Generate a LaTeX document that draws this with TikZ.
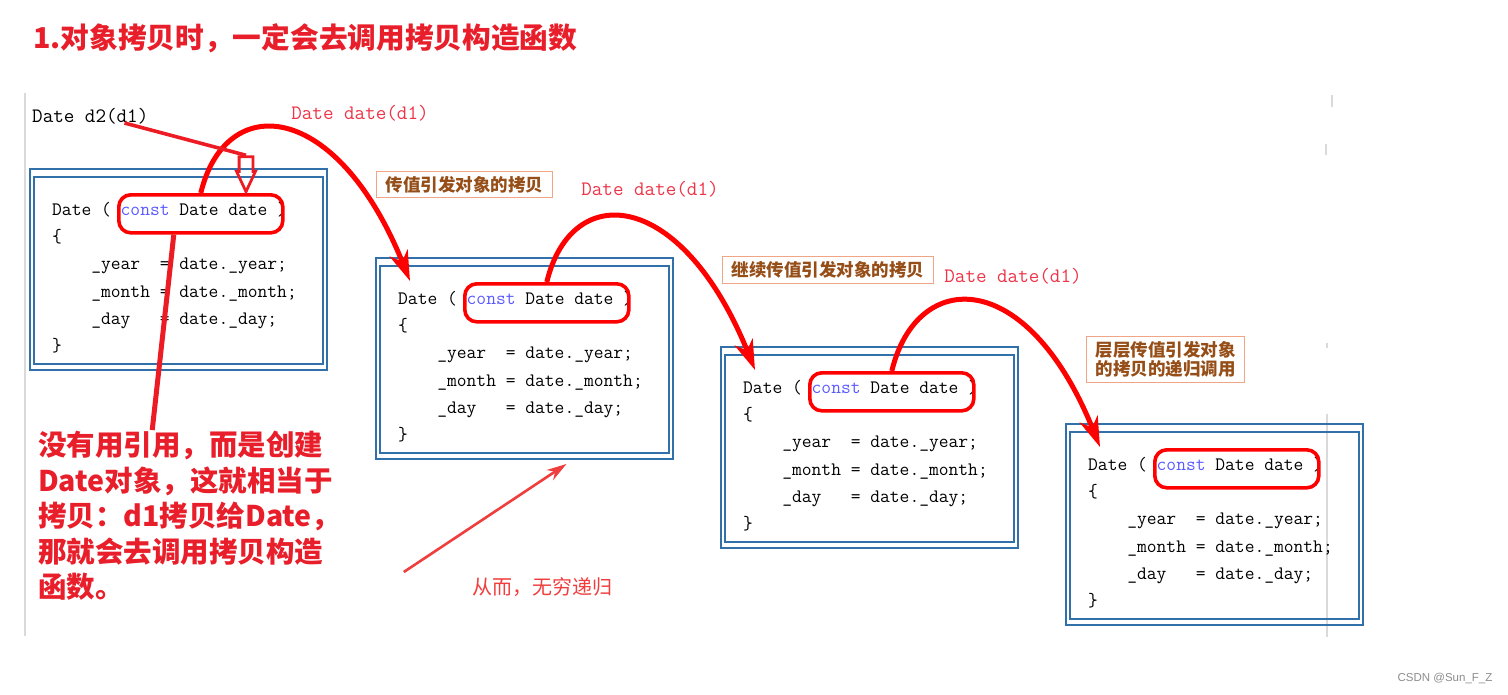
\documentclass[tikz,border=0pt]{standalone}
\usepackage{fontspec}
\setsansfont{Liberation Sans}
\newfontfamily\cjk{Noto Sans CJK SC}
\usetikzlibrary{arrows.meta,calc,positioning,shapes.arrows}
\definecolor{framecol}{RGB}{49,112,168}
\definecolor{constblue}{RGB}{90,90,255}
\definecolor{titlered}{RGB}{232,30,42}
\definecolor{linered}{RGB}{237,28,36}
\definecolor{callred}{RGB}{238,52,72}
\definecolor{softred}{RGB}{240,62,62}
\definecolor{labbrown}{RGB}{150,78,24}
\definecolor{labedge}{RGB}{240,165,135}
\definecolor{guide}{RGB}{218,218,218}
\tikzset{%
    frame/.style={%
        draw=framecol, line width=2.2pt, minimum width=297pt, minimum height=201pt,
        inner sep=0pt, outer sep=0pt, anchor=north west
    },
    framein/.style={draw=framecol, line width=2.2pt},
    code/.style={%
        font=\ttfamily\fontsize{19}{27.3}\selectfont, align=left, inner sep=0pt, anchor=north west
    },
    redbox/.style={%
        draw=red, line width=3.6pt, rounded corners=12pt, minimum width=164pt, minimum height=38pt,
        inner sep=0pt, anchor=north west
    },
    arc/.style={draw=red, line width=5pt, -{Stealth[length=30pt,width=19pt,inset=9pt]}},
    calltext/.style={font=\ttfamily\fontsize{20.5}{24}\selectfont, inner sep=0pt},
    lab/.style={%
        draw=labedge, line width=1pt, text=labbrown, font=\cjk\bfseries\fontsize{17.5}{18.5}\selectfont,
        inner xsep=9pt, inner ysep=5pt, align=left
    },
    guideline/.style={draw=guide, line width=1.3pt}
}

\begin{document}
\begin{tikzpicture}[x=1pt, y=-1pt]
    \useasboundingbox (0,0) rectangle (1508,694);
    \draw[guideline] (25,93) -- (25,636);
    \draw[guideline] (1332,95) -- (1332,107);
    \draw[guideline] (1326,144) -- (1326,155);
    \draw[guideline] (1327,343) -- (1327,348);
    \draw[guideline] (1327,414) -- (1327,637);

    \node[font=\cjk\bfseries\fontsize{28.7}{30}\selectfont, text=titlered, anchor=west, inner sep=0pt]
        (title) at (33,38) {1.对象拷贝时，一定会去调用拷贝构造函数};
    \node[calltext, anchor=west] (call) at (32,116) {Date d2(d1)};

    \foreach \i/\x/\y in {1/30/169, 2/376/258, 3/721/347, 4/1066/424} {
        \node[frame] (f\i) at (\x,\y) {};
        \draw[framein] ($(f\i.north west)+(4,8)$) rectangle ($(f\i.south east)+(-4,-6)$);
        \node[code] (c\i) at (\x+22,\y+33) {%
            Date ( {\color{constblue}const} Date date )\\
            \{\\
            \hphantom{xxxx}\_year~~= date.\_year;\\
            \hphantom{xxxx}\_month = date.\_month;\\
            \hphantom{xxxx}\_day~~~= date.\_day;\\
            \}};
        \node[redbox] (rb\i) at (\x+87,\y+24) {};
        \coordinate (tip\i) at (\x+34,\y+23);
    }

    \node[calltext, text=callred] (dd1) at (360,113) {Date date(d1)};
    \node[calltext, text=callred] (dd2) at (650,189) {Date date(d1)};
    \node[calltext, text=callred] (dd3) at (1013,276) {Date date(d1)};
    \node[lab] (why1) at (464.5,184.5) {传值引发对象的拷贝};
    \node[lab] (why2) at (828,270) {继续传值引发对象的拷贝};
    \node[lab] (why3) at (1165.5,359.5) {层层传值引发对象\\的拷贝的递归调用};

    \foreach \i/\j in {1/2, 2/3, 3/4}
        \draw[arc] (rb\i.north) .. controls +(25,-103) and +(-73,-181) .. (tip\j);

    \node[single arrow, draw=linered, line width=2.8pt, rotate=-90, inner xsep=0pt, inner ysep=5.5pt,
        text height=0pt, text depth=0pt, minimum height=35pt, single arrow head extend=2.5pt,
        single arrow tip angle=50, anchor=tip] (hollow) at (246,195) {};
    \draw[linered, line width=3.6pt] ($(call.east)+(-24,7)$) -- (hollow.tail);

    \node[font=\cjk\bfseries\fontsize{28.5}{35.5}\selectfont, text=titlered, align=left, inner sep=0pt,
        anchor=north west] (note) at (38,431)
        {没有用引用，而是创建\\Date对象，这就相当于\\拷贝：d1拷贝给Date，\\那就会去调用拷贝构造\\函数。};
    \draw[linered, line width=5pt] ($(rb1.south)+(-27,0)$) -- ($(note.north)+(-37,-1)$);

    \node[font=\cjk\fontsize{20}{22}\selectfont, text=softred, inner sep=0pt] (endless) at (542,587) {从而，无穷递归};
    \draw[softred, line width=2.6pt, -{Stealth[length=20pt,width=12pt]}]
        ($(endless.west)+(-68,-15)$) -- ($(f2.south)+(42,5)$);

    \node[font=\sffamily\fontsize{11.5}{13}\selectfont, text=black!45, inner sep=0pt] (mark) at (1445,678) {CSDN @Sun\_F\_Z};
\end{tikzpicture}
\end{document}
